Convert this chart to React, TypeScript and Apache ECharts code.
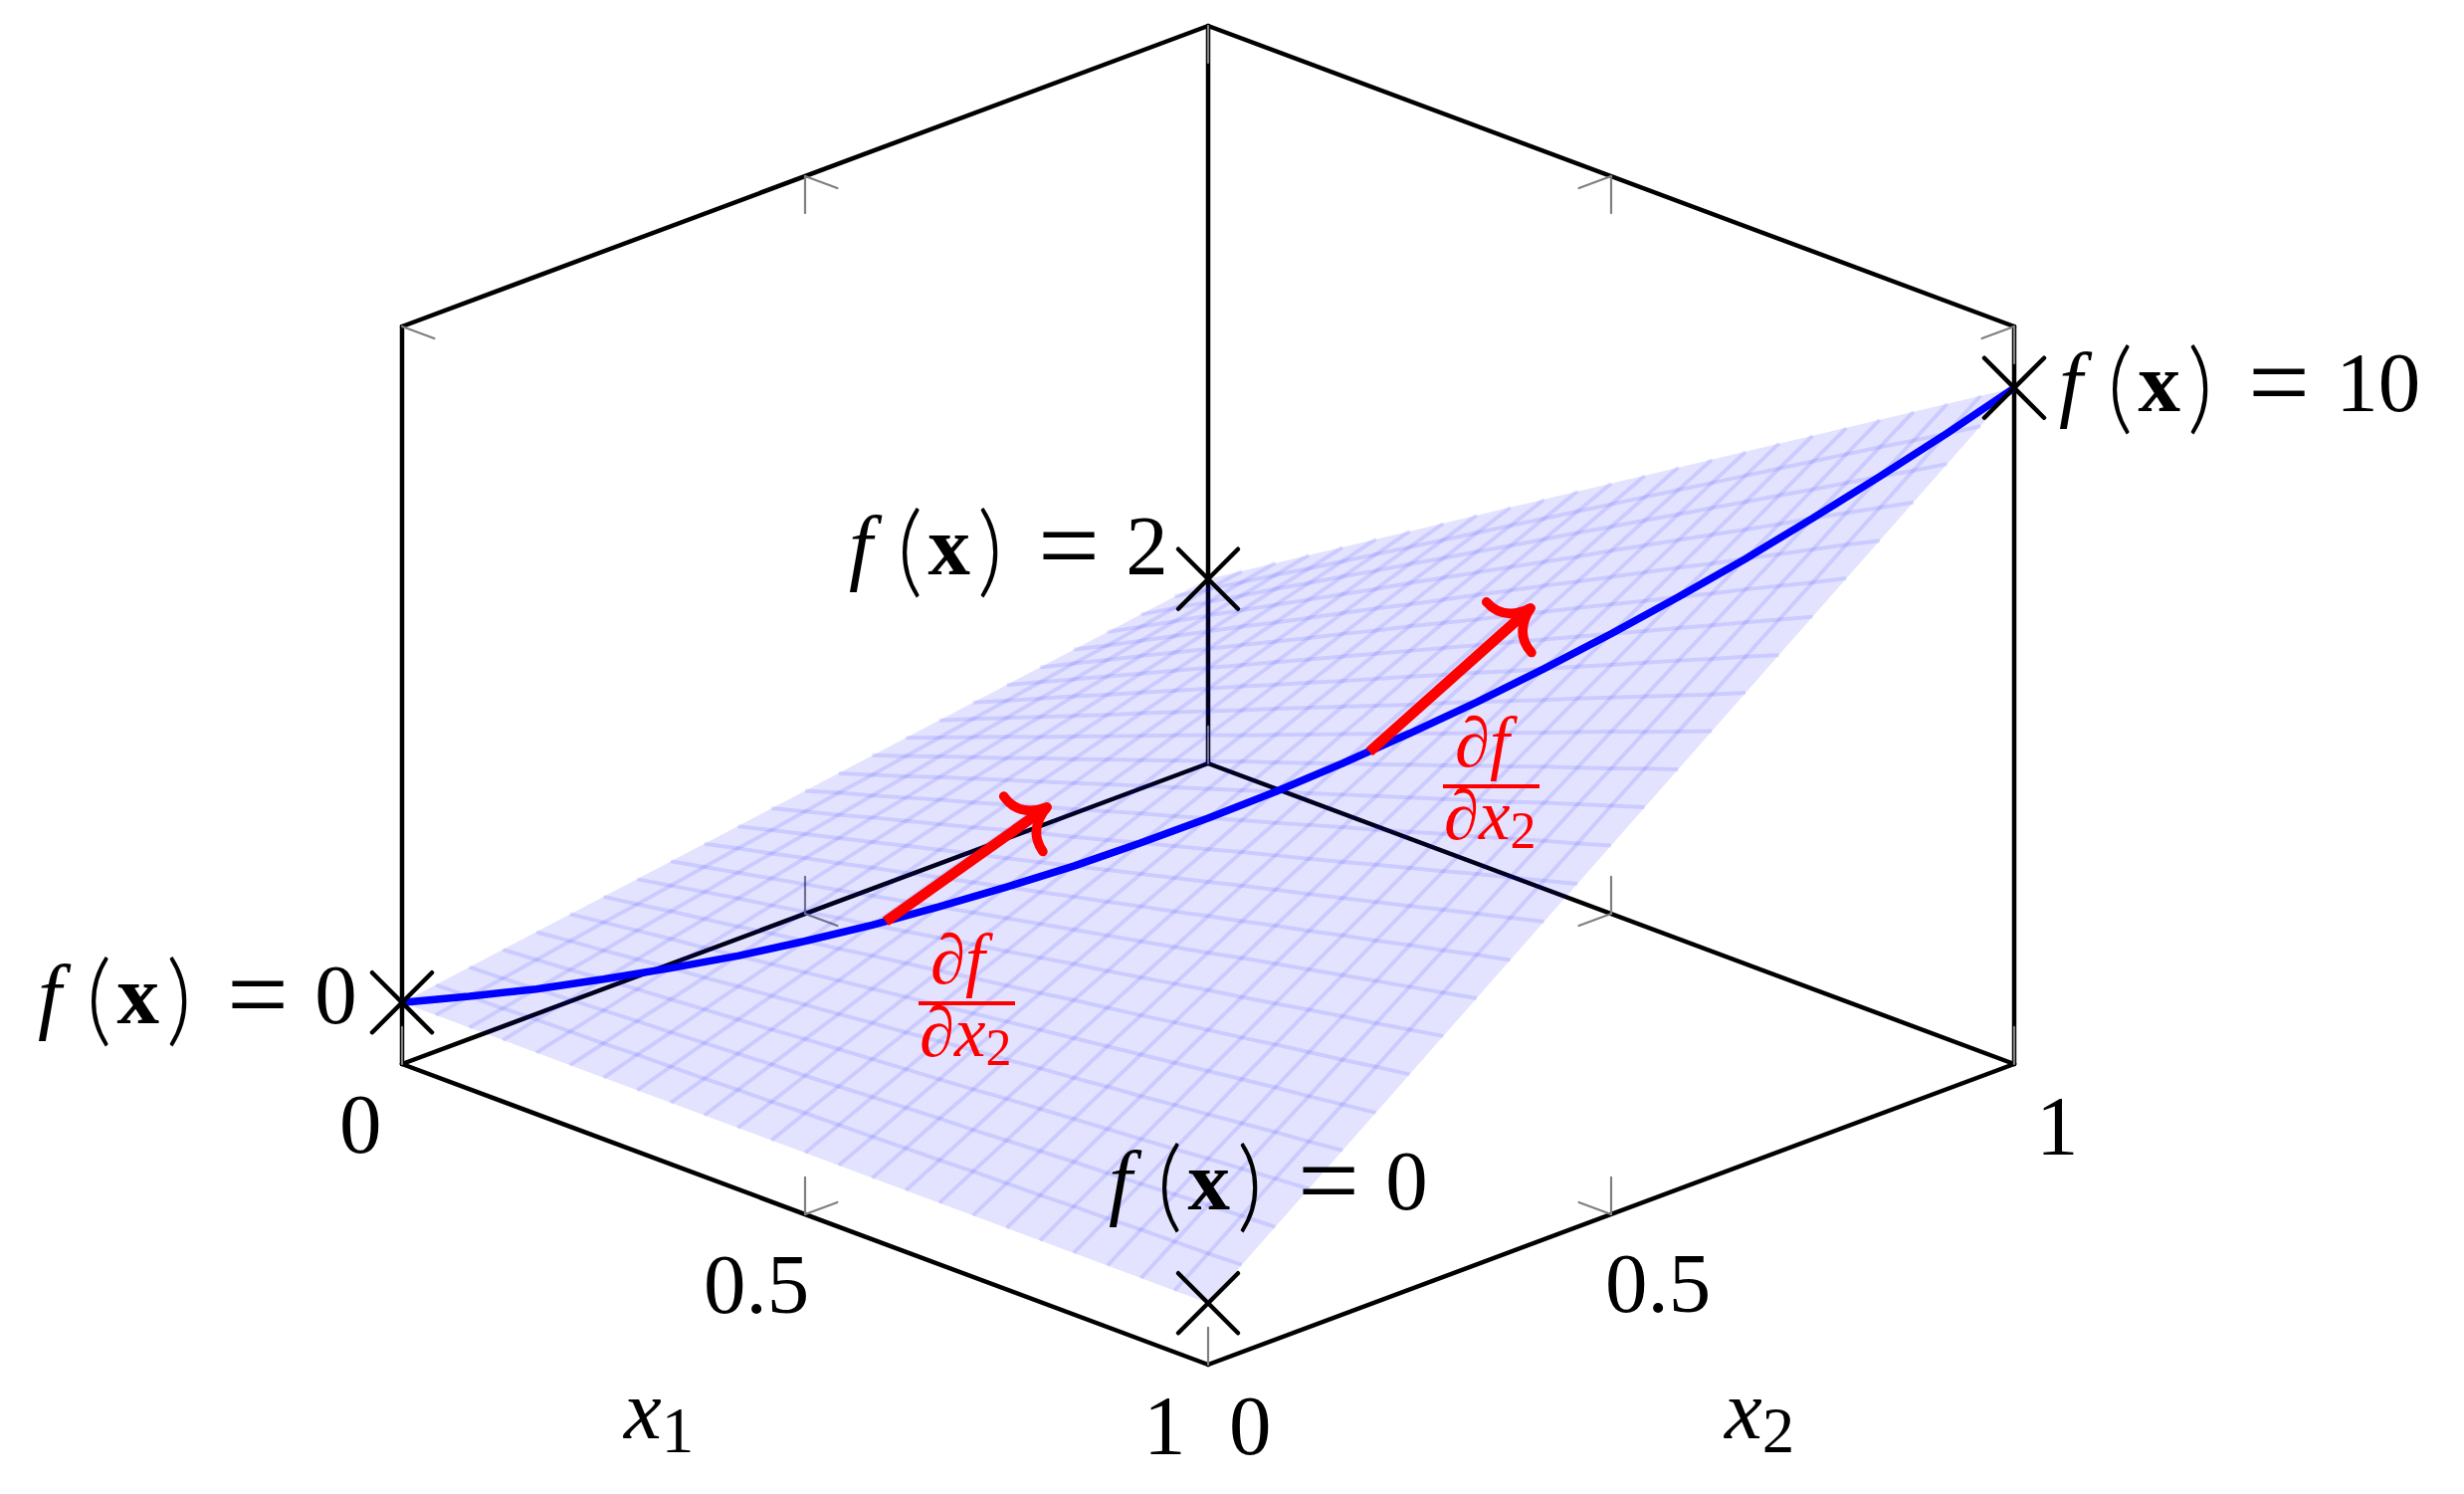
import React, { useEffect, useRef } from "react";
import * as echarts from "echarts";

// grid stops along x1 and x2
const gridStops = [0,.0417,.0833,.125,.1667,.2083,.25,.2917,.3333,.375,.4167,.4583,.5,.5417,.5833,.625,.6667,.7083,.75,.7917,.8333,.875,.9167,.9583,1];
// surface heights f, one row per x1 stop, one column per x2 stop
const surfaceHeights = [
[0,.08,.17,.25,.33,.42,.5,.58,.67,.75,.83,.92,1,1.08,1.17,1.25,1.33,1.42,1.5,1.58,1.67,1.75,1.83,1.92,2],
[0,.10,.19,.29,.39,.49,.58,.68,.78,.88,.97,1.07,1.17,1.26,1.36,1.46,1.56,1.65,1.75,1.85,1.94,2.04,2.14,2.24,2.33],
[0,.11,.22,.33,.44,.56,.67,.78,.89,1,1.11,1.22,1.33,1.44,1.56,1.67,1.78,1.89,2,2.11,2.22,2.33,2.44,2.56,2.67],
[0,.13,.25,.38,.5,.63,.75,.88,1,1.13,1.25,1.38,1.5,1.63,1.75,1.88,2,2.13,2.25,2.38,2.5,2.63,2.75,2.88,3],
[0,.14,.28,.42,.56,.69,.83,.97,1.11,1.25,1.39,1.53,1.67,1.81,1.94,2.08,2.22,2.36,2.5,2.64,2.78,2.92,3.06,3.19,3.33],
[0,.15,.31,.46,.61,.76,.92,1.07,1.22,1.38,1.53,1.68,1.83,1.99,2.14,2.29,2.44,2.6,2.75,2.9,3.06,3.21,3.36,3.51,3.67],
[0,.17,.33,.5,.67,.83,1,1.17,1.33,1.5,1.67,1.83,2,2.17,2.33,2.5,2.67,2.83,3,3.17,3.33,3.5,3.67,3.83,4],
[0,.18,.36,.54,.72,.9,1.08,1.26,1.44,1.63,1.81,1.99,2.17,2.35,2.53,2.71,2.89,3.07,3.25,3.43,3.61,3.79,3.97,4.15,4.33],
[0,.19,.39,.58,.78,.97,1.17,1.36,1.56,1.75,1.94,2.14,2.33,2.53,2.72,2.92,3.11,3.31,3.5,3.69,3.89,4.08,4.28,4.47,4.67],
[0,.21,.42,.63,.83,1.04,1.25,1.46,1.67,1.88,2.08,2.29,2.5,2.71,2.92,3.13,3.33,3.54,3.75,3.96,4.17,4.38,4.58,4.79,5],
[0,.22,.44,.67,.89,1.11,1.33,1.56,1.78,2,2.22,2.44,2.67,2.89,3.11,3.33,3.56,3.78,4,4.22,4.44,4.67,4.89,5.11,5.33],
[0,.24,.47,.71,.94,1.18,1.42,1.65,1.89,2.13,2.36,2.6,2.83,3.07,3.31,3.54,3.78,4.01,4.25,4.49,4.72,4.96,5.19,5.43,5.67],
[0,.25,.5,.75,1,1.25,1.5,1.75,2,2.25,2.5,2.75,3,3.25,3.5,3.75,4,4.25,4.5,4.75,5,5.25,5.5,5.75,6],
[0,.26,.53,.79,1.06,1.32,1.58,1.85,2.11,2.38,2.64,2.9,3.17,3.43,3.69,3.96,4.22,4.49,4.75,5.01,5.28,5.54,5.81,6.07,6.33],
[0,.28,.56,.83,1.11,1.39,1.67,1.94,2.22,2.5,2.78,3.06,3.33,3.61,3.89,4.17,4.44,4.72,5,5.28,5.56,5.83,6.11,6.39,6.67],
[0,.29,.58,.88,1.17,1.46,1.75,2.04,2.33,2.63,2.92,3.21,3.5,3.79,4.08,4.38,4.67,4.96,5.25,5.54,5.83,6.13,6.42,6.71,7],
[0,.31,.61,.92,1.22,1.53,1.83,2.14,2.44,2.75,3.06,3.36,3.67,3.97,4.28,4.58,4.89,5.19,5.5,5.81,6.11,6.42,6.72,7.03,7.33],
[0,.32,.64,.96,1.28,1.6,1.92,2.24,2.56,2.88,3.19,3.51,3.83,4.15,4.47,4.79,5.11,5.43,5.75,6.07,6.39,6.71,7.03,7.35,7.67],
[0,.33,.67,1,1.33,1.67,2,2.33,2.67,3,3.33,3.67,4,4.33,4.67,5,5.33,5.67,6,6.33,6.67,7,7.33,7.67,8],
[0,.35,.69,1.04,1.39,1.74,2.08,2.43,2.78,3.13,3.47,3.82,4.17,4.51,4.86,5.21,5.56,5.9,6.25,6.6,6.94,7.29,7.64,7.99,8.33],
[0,.36,.72,1.08,1.44,1.81,2.17,2.53,2.89,3.25,3.61,3.97,4.33,4.69,5.06,5.42,5.78,6.14,6.5,6.86,7.22,7.58,7.94,8.31,8.67],
[0,.38,.75,1.13,1.5,1.88,2.25,2.63,3,3.38,3.75,4.13,4.5,4.88,5.25,5.63,6,6.38,6.75,7.13,7.5,7.88,8.25,8.63,9],
[0,.39,.78,1.17,1.56,1.94,2.33,2.72,3.11,3.5,3.89,4.28,4.67,5.06,5.44,5.83,6.22,6.61,7,7.39,7.78,8.17,8.56,8.94,9.33],
[0,.4,.81,1.21,1.61,2.01,2.42,2.82,3.22,3.63,4.03,4.43,4.83,5.24,5.64,6.04,6.44,6.85,7.25,7.65,8.06,8.46,8.86,9.26,9.67],
[0,.42,.83,1.25,1.67,2.08,2.5,2.92,3.33,3.75,4.17,4.58,5,5.42,5.83,6.25,6.67,7.08,7.5,7.92,8.33,8.75,9.17,9.58,10],
];
const zFloor = -1;
const zCeil = 11;
// corner markers [x1, x2, f]
const cornerMarks = [[0,0,0],[0,1,2],[1,1,10],[1,0,0]];
// gradient arrows [x1, x2 start, f start, x2 end, f end]
const gradientArrows = [[.3,.3,1.32,.5,2.2],[.6,.6,4.08,.8,5.44]];
const tickLabels = ["0","0.5","1"];

// Oblique view: one x1 or x2 unit spans 810 px across, 302 px up or down; one f unit spans 61.75 px.
const K = 302 / 61.75;
const proj = (a: number, b: number, z: number) => [a + b, (z - zFloor) + K * (b - a)];

const seg = (a: number[], b: number[]) => [...a, ...b];
const boxEdges = [
  seg([0,0,zFloor],[1,0,zFloor]), seg([1,0,zFloor],[1,1,zFloor]),
  seg([0,0,zFloor],[0,1,zFloor]), seg([0,1,zFloor],[1,1,zFloor]),
  seg([0,0,zFloor],[0,0,zCeil]), seg([1,1,zFloor],[1,1,zCeil]), seg([0,1,zFloor],[0,1,zCeil]),
  seg([0,0,zCeil],[0,1,zCeil]), seg([0,1,zCeil],[1,1,zCeil]),
];
const tl = 0.6, td = 0.04;
const tickSegs = [
  // floor vertical ticks
  ...[[0,0],[.5,0],[1,0],[1,.5],[1,1],[.5,1],[0,1],[0,.5]].map(([a,b]) => seg([a,b,zFloor],[a,b,zFloor+tl])),
  // ceiling vertical ticks
  ...[[0,.5],[0,1],[.5,1],[1,1]].map(([a,b]) => seg([a,b,zCeil],[a,b,zCeil-tl])),
  // inward ticks
  seg([.5,0,zFloor],[.5,td,zFloor]), seg([.5,1,zFloor],[.5,1-td,zFloor]),
  seg([1,.5,zFloor],[1-td,.5,zFloor]), seg([0,.5,zFloor],[td,.5,zFloor]),
  seg([.5,1,zCeil],[.5,1-td,zCeil]), seg([1,1,zCeil],[1,1-td,zCeil]),
  seg([0,.5,zCeil],[td,.5,zCeil]), seg([0,0,zCeil],[td,0,zCeil]),
];

const n = gridStops.length;
const meshLines: number[][][] = [];
for (let i = 1; i < n - 1; i++) meshLines.push(gridStops.map((s, j) => proj(gridStops[i], s, surfaceHeights[i][j])));
for (let j = 1; j < n - 1; j++) meshLines.push(gridStops.map((s, i) => proj(s, gridStops[j], surfaceHeights[i][j])));
const surfaceOutline = [
  proj(0,0,surfaceHeights[0][0]), proj(1,0,surfaceHeights[n-1][0]),
  proj(1,1,surfaceHeights[n-1][n-1]), proj(0,1,surfaceHeights[0][n-1]),
];
const blueCurve = gridStops.map((s, i) => proj(s, s, surfaceHeights[i][i]));

const FONT = '"Liberation Serif"';
const mathRich = {
  f: { fontFamily: FONT, fontStyle: "italic", fontWeight: "normal", fontSize: 85, padding: [0, 25, 0, 0], fill: "#000" },
  p: { fontFamily: "Lato", fontWeight: 300, fontSize: 100, fill: "#000" },
  x: { fontFamily: FONT, fontWeight: "bold", fontSize: 85, padding: [0, 7, 0, 5], fill: "#000" },
  sp: { fontFamily: FONT, fontWeight: "normal", fontSize: 85, fill: "#000" },
  e: { fontFamily: FONT, fontWeight: "normal", fontSize: 110, padding: [0, 0, 0, 14], fill: "#000" },
  n: { fontFamily: FONT, fontWeight: "normal", fontSize: 85, padding: [0, 0, 0, 5], fill: "#000" },
};
const fxLabel = (v: string) => `{f|f}{p|(}{x|x}{p|)}{sp| }{e|=}{sp| }{n|${v}}`;
const BASE = 0.34;
const text = (x: number, baseline: number, str: string, rich?: any, fontSize = 85, fill = "#000") => ({
  type: "text", x, y: baseline - BASE * fontSize, z: 100, silent: true,
  style: { text: str, rich, font: `${fontSize}px ${FONT}`, fill, textAlign: "left", textVerticalAlign: "middle" },
});
const axisVarRich = {
  v: { fontFamily: FONT, fontStyle: "italic", fontSize: 85, fill: "#000" },
  s: { fontFamily: FONT, fontSize: 65, padding: [41, 0, 0, 0], fill: "#000" },
};
const fracRich = {
  d: { fontFamily: FONT, fontStyle: "italic", fontSize: 71, fill: "#f00" },
  v: { fontFamily: FONT, fontStyle: "italic", fontSize: 71, fill: "#f00" },
  s: { fontFamily: FONT, fontSize: 52, padding: [32, 0, 0, 0], fill: "#f00" },
};
const fraction = (dx: number, dy: number) => [
  text(935 + dx, 988 + dy, "{d|∂}{v|f}", fracRich, 71, "#f00"),
  { type: "line", z: 100, silent: true, shape: { x1: 923 + dx, y1: 1008 + dy, x2: 1020 + dx, y2: 1008 + dy }, style: { stroke: "#f00", lineWidth: 4 } },
  text(924 + dx, 1061 + dy, "{d|∂}{v|x}{s|2}", fracRich, 71, "#f00"),
];

const segSeries = (data: number[][], stroke: string, lineWidth: number, z: number) => ({
  type: "custom", z, silent: true, clip: false, data, encode: { x: 0, y: 1 },
  renderItem: (_: any, api: any) => {
    const a = api.coord(proj(api.value(0), api.value(1), api.value(2)));
    const b = api.coord(proj(api.value(3), api.value(4), api.value(5)));
    return { type: "line", shape: { x1: a[0], y1: a[1], x2: b[0], y2: b[1] }, style: { stroke, lineWidth, lineCap: "round" } };
  },
});

export default function App() {
  const ref = useRef<HTMLDivElement>(null);
  useEffect(() => {
    const chart = echarts.init(ref.current!, undefined, { renderer: "svg" });
    chart.setOption({
      animation: false,
      backgroundColor: "#fff",
      grid: { left: 0, right: 0, top: 0, bottom: 0 },
      xAxis: { type: "value", show: false, min: -404 / 810, max: (2476 - 404) / 810 },
      yAxis: { type: "value", show: false, min: (1069 - 1501) / 61.75, max: 1069 / 61.75 },
      series: [
        segSeries(boxEdges, "#000", 4.5, 1),
        segSeries(tickSegs, "#808080", 2.2, 2),
        {
          type: "custom", z: 3, silent: true, clip: false, data: [[0, 0]],
          renderItem: (_: any, api: any) => ({
            type: "polygon",
            shape: { points: surfaceOutline.map((p) => api.coord(p)) },
            style: { fill: "rgba(0,0,255,0.11)", stroke: "none" },
          }),
        },
        {
          type: "custom", z: 4, silent: true, clip: false, data: meshLines.map((_, i) => [i, 0]),
          renderItem: (_: any, api: any) => ({
            type: "polyline",
            shape: { points: meshLines[api.value(0)].map((p) => api.coord(p)) },
            style: { fill: "none", stroke: "rgba(0,0,255,0.1)", lineWidth: 4 },
          }),
        },
        {
          type: "line", z: 5, silent: true, symbol: "none", data: blueCurve,
          lineStyle: { color: "#0000ff", width: 7.5 },
        },
        {
          type: "custom", z: 6, silent: true, clip: false, data: gradientArrows,
          renderItem: (_: any, api: any) => {
            const s = api.coord(proj(api.value(0), api.value(1), api.value(2)));
            const e = api.coord(proj(api.value(0), api.value(3), api.value(4)));
            const len = Math.hypot(e[0] - s[0], e[1] - s[1]);
            const u = [(e[0] - s[0]) / len, (e[1] - s[1]) / len];
            const m = [-u[1], u[0]];
            const pt = (a: number, b: number) => [e[0] + a * u[0] + b * m[0], e[1] + a * u[1] + b * m[1]];
            const barb = (sign: number) => {
              const p = pt(-29, 34 * sign), c = pt(-29, 8 * sign);
              return {
                type: "bezierCurve",
                shape: { x1: p[0], y1: p[1], x2: e[0], y2: e[1], cpx1: c[0], cpy1: c[1] },
                style: { stroke: "#f00", lineWidth: 9.5, lineCap: "round", fill: "none" },
              };
            };
            return {
              type: "group",
              children: [
                { type: "line", shape: { x1: s[0], y1: s[1], x2: e[0], y2: e[1] }, style: { stroke: "#f00", lineWidth: 10.5 } },
                barb(1), barb(-1),
              ],
            };
          },
        },
        {
          type: "custom", z: 7, silent: true, clip: false, data: cornerMarks,
          renderItem: (_: any, api: any) => {
            const c = api.coord(proj(api.value(0), api.value(1), api.value(2)));
            const r = 30;
            const st = { stroke: "#000", lineWidth: 4.5, lineCap: "round" };
            return {
              type: "group",
              children: [
                { type: "line", shape: { x1: c[0] - r, y1: c[1] - r, x2: c[0] + r, y2: c[1] + r }, style: st },
                { type: "line", shape: { x1: c[0] - r, y1: c[1] + r, x2: c[0] + r, y2: c[1] - r }, style: st },
              ],
            };
          },
        },
      ],
      graphic: [
        text(2069, 413, fxLabel("10"), mathRich),
        text(853, 577, fxLabel("2"), mathRich),
        text(38, 1028, fxLabel("0"), mathRich),
        text(1114, 1215, fxLabel("0"), mathRich),
        text(341, 1158, tickLabels[0]),
        text(707, 1319, tickLabels[1]),
        text(1149, 1461, tickLabels[2]),
        text(1235, 1461, tickLabels[0]),
        text(1613, 1318, tickLabels[1]),
        text(2046, 1160, tickLabels[2]),
        text(627, 1445, "{v|x}{s|1}", axisVarRich),
        text(1733, 1445, "{v|x}{s|2}", axisVarRich),
        ...fraction(0, 0),
        ...fraction(527, -218),
      ],
    });
    return () => chart.dispose();
  }, []);
  return <div ref={ref} style={{ position: "absolute", left: 0, top: 0, width: 2476, height: 1501 }} />;
}
